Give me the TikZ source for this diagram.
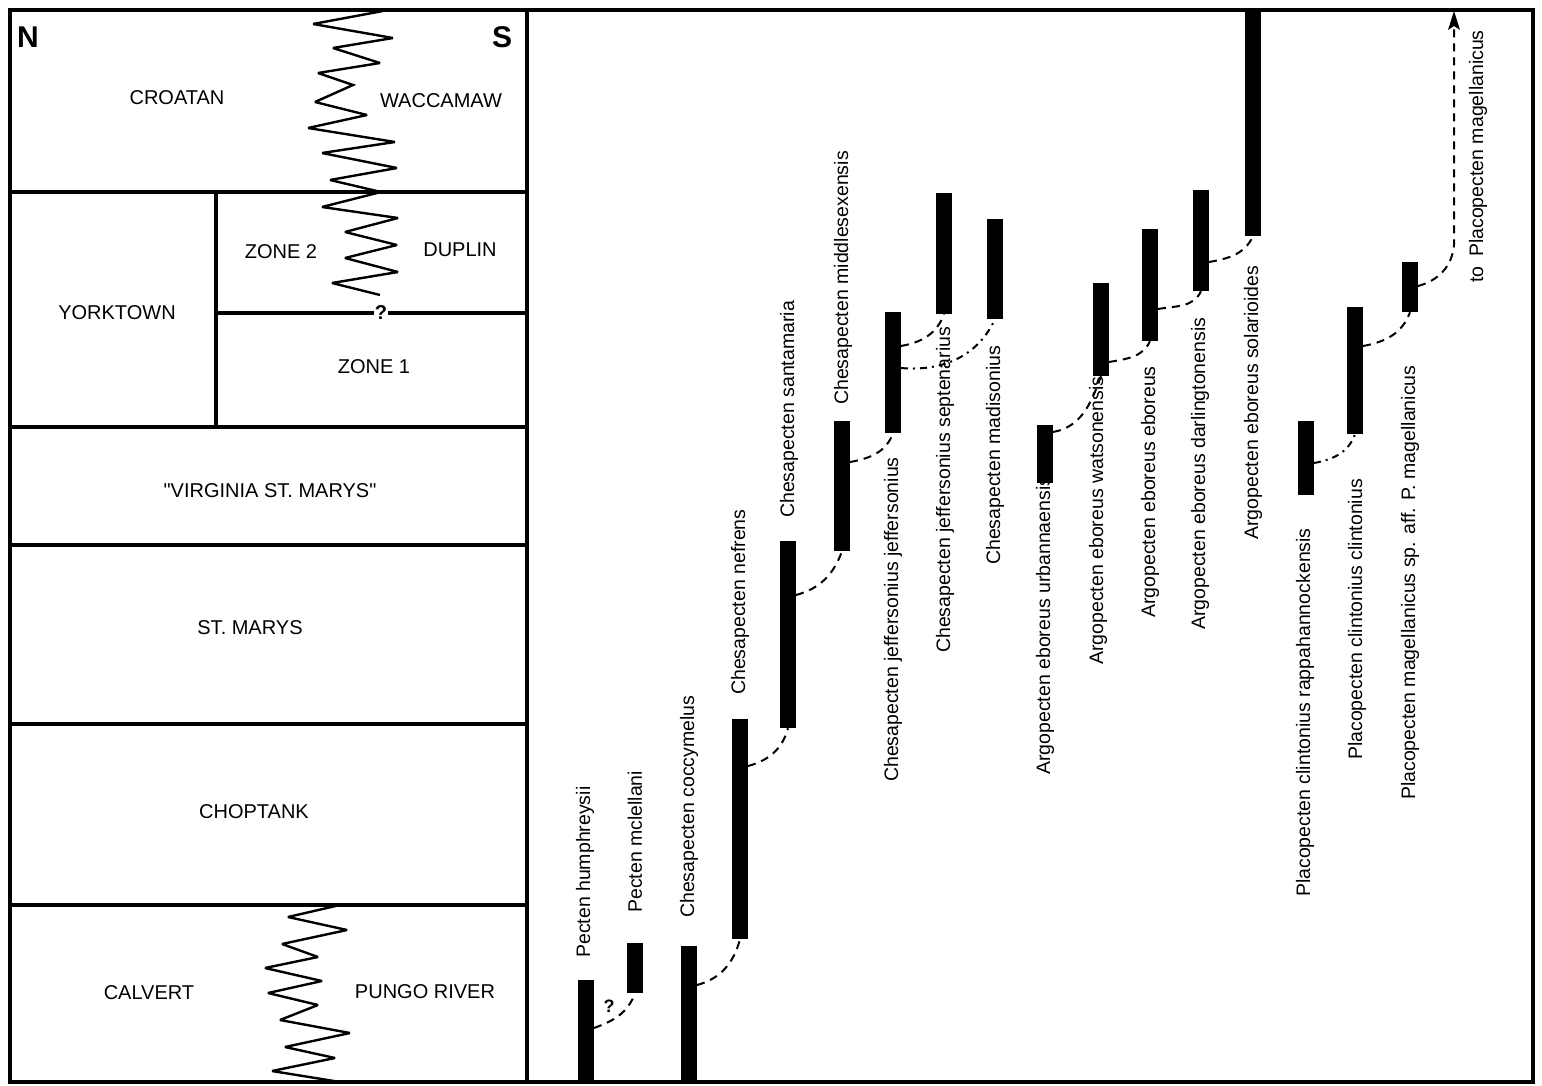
\documentclass[tikz,border=0pt]{standalone}
\usepackage{fontspec}
\setmainfont{Liberation Sans}
\newfontfamily\plainsans[Ligatures=TeXOff]{Liberation Sans}
\usetikzlibrary{arrows.meta}
\begin{document}
\begin{tikzpicture}[x=1pt,y=-1pt,
  frame/.style={line width=4pt},
  zig/.style={line width=2.4pt, line join=miter, miter limit=3},
  bar/.style={fill=black, draw=none, minimum width=16pt, inner sep=0pt, rectangle},
  link/.style={line width=2pt, dash pattern=on 8pt off 6pt},
  linkdd/.style={line width=2pt, dash pattern=on 7pt off 5pt on 2pt off 5pt},
  fm/.style={font=\fontsize{20}{24}\selectfont, inner sep=0pt},
  qm/.style={font=\fontsize{20}{24}\selectfont\bfseries, inner sep=1pt},
  lbl/.style={font=\fontsize{19.5}{23}\selectfont, rotate=90, anchor=west, inner sep=0pt},
  ]
\useasboundingbox (0,0) rectangle (1542,1086);
\fill[white] (0,0) rectangle (1542,1086);

% ---------- frame ----------
\draw[frame] (10,10) rectangle (1533,1082);
\draw[frame] (527,10) -- (527,1082);
\draw[frame] (10,192) -- (527,192);
\draw[frame] (10,427) -- (527,427);
\draw[frame] (10,545) -- (527,545);
\draw[frame] (10,724) -- (527,724);
\draw[frame] (10,905) -- (527,905);
\draw[frame] (216,192) -- (216,427);
\node[qm] (q1) at (381,313) {?};
\draw[frame] (216,313) -- (q1.west);
\draw[frame] (q1.east) -- (527,313);

% ---------- zigzags ----------
\draw[zig] (383,11) -- (313,24) -- (393,38) -- (333,48) -- (380,63) -- (318,73)
  -- (353,85) -- (315,102) -- (367,115) -- (308,128) -- (395,142) -- (322,153)
  -- (397,168) -- (330,180) -- (381,192) -- (322,207) -- (398,218) -- (345,232)
  -- (397,245) -- (345,258) -- (398,272) -- (332,283) -- (380,295);
\draw[zig] (340,905) -- (288,917) -- (347,930) -- (282,944) -- (318,957) -- (265,968)
  -- (322,981) -- (268,993) -- (318,1005) -- (280,1020) -- (350,1033) -- (285,1047)
  -- (335,1058) -- (272,1071) -- (340,1082);

% ---------- formation names ----------
\node[font=\fontsize{30}{32}\selectfont\bfseries, inner sep=0pt] (N) at (28,37) {N};
\node[font=\fontsize{30}{32}\selectfont\bfseries, inner sep=0pt] (S) at (502,37) {S};
\node[fm] (croatan) at (177,98) {CROATAN};
\node[fm] (waccamaw) at (441,101) {WACCAMAW};
\node[fm] (zone2) at (281,252) {ZONE 2};
\node[fm] (duplin) at (460,250) {DUPLIN};
\node[fm] (yorktown) at (117,313) {YORKTOWN};
\node[fm] (zone1) at (374,367) {ZONE 1};
\node[fm] (vsm) at (270,491) {\plainsans "VIRGINIA ST. MARYS"};
\node[fm] (stm) at (250,628) {ST. MARYS};
\node[fm] (chop) at (254,812) {CHOPTANK};
\node[fm] (calv) at (149,993) {CALVERT};
\node[fm] (pungo) at (425,992) {PUNGO RIVER};

% ---------- range bars ----------
\node[bar, minimum height=102pt] (b1)  at (586,1031) {};
\node[bar, minimum height=50pt]  (b2)  at (635,968) {};
\node[bar, minimum height=136pt] (b3)  at (689,1014) {};
\node[bar, minimum height=220pt] (b4)  at (740,829) {};
\node[bar, minimum height=187pt] (b5)  at (788,634.5) {};
\node[bar, minimum height=130pt] (b6)  at (842,486) {};
\node[bar, minimum height=121pt] (b7)  at (893,372.5) {};
\node[bar, minimum height=121pt] (b8)  at (944,253.5) {};
\node[bar, minimum height=100pt] (b9)  at (995,269) {};
\node[bar, minimum height=58pt]  (b10) at (1045,454) {};
\node[bar, minimum height=93pt]  (b11) at (1101,329.5) {};
\node[bar, minimum height=112pt] (b12) at (1150,285) {};
\node[bar, minimum height=101pt] (b13) at (1201,240.5) {};
\node[bar, minimum height=226pt] (b14) at (1253,123) {};
\node[bar, minimum height=74pt]  (b15) at (1306,458) {};
\node[bar, minimum height=127pt] (b16) at (1355,370.5) {};
\node[bar, minimum height=50pt]  (b17) at (1410,287) {};

% ---------- connectors ----------
\coordinate (c1) at (594,1028);
\coordinate (c2) at (697,985);
\coordinate (c3) at (748,766);
\coordinate (c4) at (796,595);
\coordinate (c5) at (850,462);
\coordinate (c6) at (901,346);
\coordinate (c7) at (901,368);
\coordinate (c8) at (1053,432);
\coordinate (c9) at (1109,362);
\coordinate (c10) at (1158,309);
\coordinate (c11) at (1209,262);
\coordinate (c12) at (1314,463);
\coordinate (c13) at (1363,346);
\coordinate (c14) at (1418,286);
\coordinate (arrbase) at (1454,245);
\coordinate (arrneck) at (1454,26);
\coordinate (arrtop) at (1454,11);

\draw[link] (c1) to[out=20,in=-110] (b2.south);
\node[qm, font=\fontsize{18}{20}\selectfont\bfseries] (q2) at (609,1006) {?};
\draw[link] (c2) to[out=15,in=-105] (b4.south);
\draw[link] (c3) to[out=15,in=-105] (b5.south);
\draw[link] (c4) to[out=15,in=-110] (b6.south);
\draw[link] (c5) to[out=10,in=-110] (b7.south);
\draw[link] (c6) to[out=10,in=-110] (b8.south);
\draw[linkdd] (c7) to[out=-5,in=-115] (b9.south);
\draw[link] (c8) to[out=10,in=-110] (b11.south);
\draw[link] (c9) to[out=10,in=-115] (b12.south);
\draw[link] (c10) to[out=10,in=-115] (b13.south);
\draw[link] (c11) to[out=10,in=-115] (b14.south);
\draw[linkdd] (c12) to[out=10,in=-110] (b16.south);
\draw[link] (c13) to[out=10,in=-110] (b17.south);
\draw[link] (c14) to[out=15,in=-95] (arrbase) -- (arrneck);
\fill (arrtop) -- (1448,30) -- (1454,26) -- (1460,30) -- cycle;

% ---------- species labels ----------
\node[lbl] (l1)  at (585,958) {Pecten humphreysii};
\node[lbl] (l2)  at (635,913) {Pecten mclellani};
\node[lbl] (l3)  at (689,918) {Chesapecten coccymelus};
\node[lbl] (l4)  at (740,695) {Chesapecten nefrens};
\node[lbl] (l5)  at (789,518) {Chesapecten santamaria};
\node[lbl] (l6)  at (843,405) {Chesapecten middlesexensis};
\node[lbl] (l7)  at (893,782) {Chesapecten jeffersonius jeffersonius};
\node[lbl] (l8)  at (945,653) {Chesapecten jeffersonius septenarius};
\node[lbl] (l9)  at (995,565) {Chesapecten madisonius};
\node[lbl] (l10) at (1045,775) {Argopecten eboreus urbannaensis};
\node[lbl] (l11) at (1098,665) {Argopecten eboreus watsonensis};
\node[lbl] (l12) at (1150,618) {Argopecten eboreus eboreus};
\node[lbl] (l13) at (1200,630) {Argopecten eboreus darlingtonensis};
\node[lbl] (l14) at (1253,540) {Argopecten eboreus solarioides};
\node[lbl] (l15) at (1305,897) {Placopecten clintonius rappahannockensis};
\node[lbl] (l16) at (1357,760) {Placopecten clintonius clintonius};
\node[lbl] (l17) at (1410,800) {Placopecten magellanicus sp. aff. P. magellanicus};
\node[lbl] (l18) at (1478,283) {to\enspace Placopecten magellanicus};
\end{tikzpicture}
\end{document}
